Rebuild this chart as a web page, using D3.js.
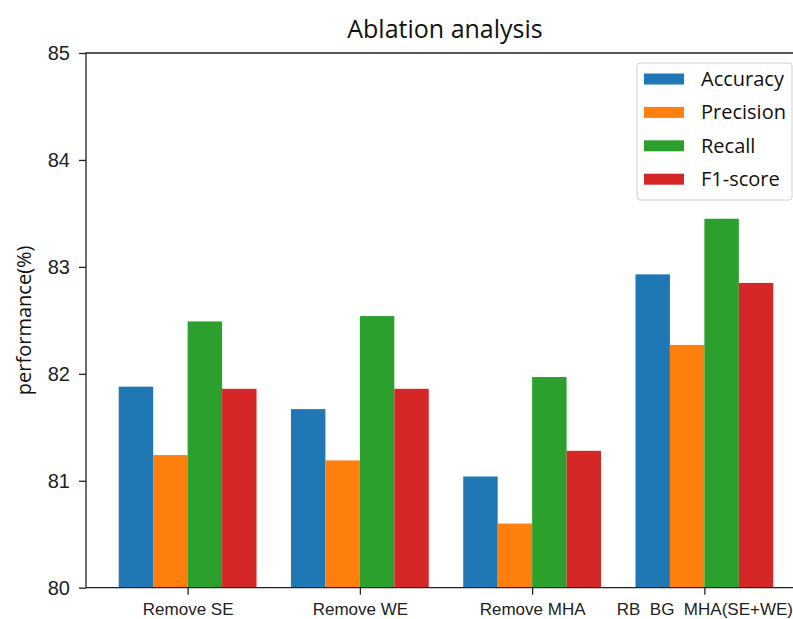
<!DOCTYPE html>
<html>
<head>
<meta charset="utf-8">
<script src="https://cdn.jsdelivr.net/npm/d3@7"></script>
<style>
  body { margin: 0; background: #fff; }
  svg { font-family: "Open Sans", "Noto Sans", sans-serif; }
</style>
</head>
<body>
<svg id="chart"></svg>
<script>
const categories = ["Remove SE", "Remove WE", "Remove MHA", "RB  BG  MHA(SE+WE)"]
const seriesNames = ["Accuracy", "Precision", "Recall", "F1-score"]
const accuracy = [81.88, 81.67, 81.04, 82.93]
const precision = [81.24, 81.19, 80.60, 82.27]
const recall = [82.49, 82.54, 81.97, 83.45]
const f1score = [81.86, 81.86, 81.28, 82.85]
const yTicks = [80, 81, 82, 83, 84, 85]
const colors = ["#1f77b4", "#ff7f0e", "#2ca02c", "#d62728"]

const series = [accuracy, precision, recall, f1score]
const width = 793, height = 619
const margins = {left: 86, right: -13, top: 53, bottom: 31}
const barWidth = 0.2

const svg = d3.select("#chart").attr("width", width).attr("height", height)

const scaleX = d3.scaleLinear().domain([-0.59, 3.59]).range([margins.left, width - margins.right])
const scaleY = d3.scaleLinear().domain([80, 85]).range([height - margins.bottom - 0.3, margins.top])

// bars
series.forEach((values, j) => {
    svg.append("g").selectAll("rect")
        .data(values)
        .join("rect")
        .attr("x", (d, i) => scaleX(i + (j - 1.5) * barWidth - barWidth / 2))
        .attr("width", scaleX(barWidth) - scaleX(0))
        .attr("y", d => scaleY(d))
        .attr("height", d => scaleY(80) - scaleY(d))
        .attr("fill", colors[j])
})

// spines
const x0 = scaleX.range()[0], x1 = scaleX.range()[1]
const y0 = scaleY.range()[0], y1 = scaleY.range()[1]
svg.append("path")
    .attr("d", `M${x0},${y0}V${y1}H${x1}V${y0}Z`)
    .attr("fill", "none").attr("stroke", "#222").attr("stroke-width", 1.3)

// axes
const yAxis = d3.axisLeft(scaleY).tickValues(yTicks).tickSize(7).tickPadding(9).tickFormat(d3.format("d"))
const yG = svg.append("g").attr("transform", `translate(${x0},0)`).call(yAxis)
yG.select(".domain").remove()
yG.selectAll("line").attr("stroke", "#222").attr("stroke-width", 1.3)
yG.selectAll("text").attr("font-size", 20).attr("fill", "#222").attr("font-family", "inherit")

const xAxis = d3.axisBottom(scaleX).tickValues([0, 1, 2, 3]).tickSize(7).tickPadding(8).tickFormat(i => categories[i])
const xG = svg.append("g").attr("transform", `translate(0,${y0})`).call(xAxis)
xG.select(".domain").remove()
xG.selectAll("line").attr("stroke", "#222").attr("stroke-width", 1.3)
xG.selectAll("text").attr("font-size", 17).attr("fill", "#222").attr("font-family", "inherit").style("white-space", "pre")

// labels
svg.append("text").text("Ablation analysis")
    .attr("x", 445).attr("y", 38).attr("text-anchor", "middle")
    .attr("font-size", 25).attr("fill", "#111")
svg.append("text").text("performance(%)")
    .attr("transform", `translate(31,${(y0 + y1) / 2}) rotate(-90)`)
    .attr("text-anchor", "middle").attr("font-size", 20).attr("fill", "#111")

// legend
const legend = svg.append("g").attr("transform", "translate(637,63)")
legend.append("rect").attr("width", 155).attr("height", 137).attr("rx", 3)
    .attr("fill", "white").attr("fill-opacity", 0.8).attr("stroke", "#d0d0d0")
seriesNames.forEach((name, j) => {
    const row = legend.append("g").attr("transform", `translate(0,${16 + j * 33.4})`)
    row.append("rect").attr("x", 7).attr("y", -5.5).attr("width", 40).attr("height", 11).attr("fill", colors[j])
    row.append("text").text(name).attr("x", 64).attr("y", 7).attr("font-size", 20).attr("fill", "#111")
})
</script>
</body>
</html>
